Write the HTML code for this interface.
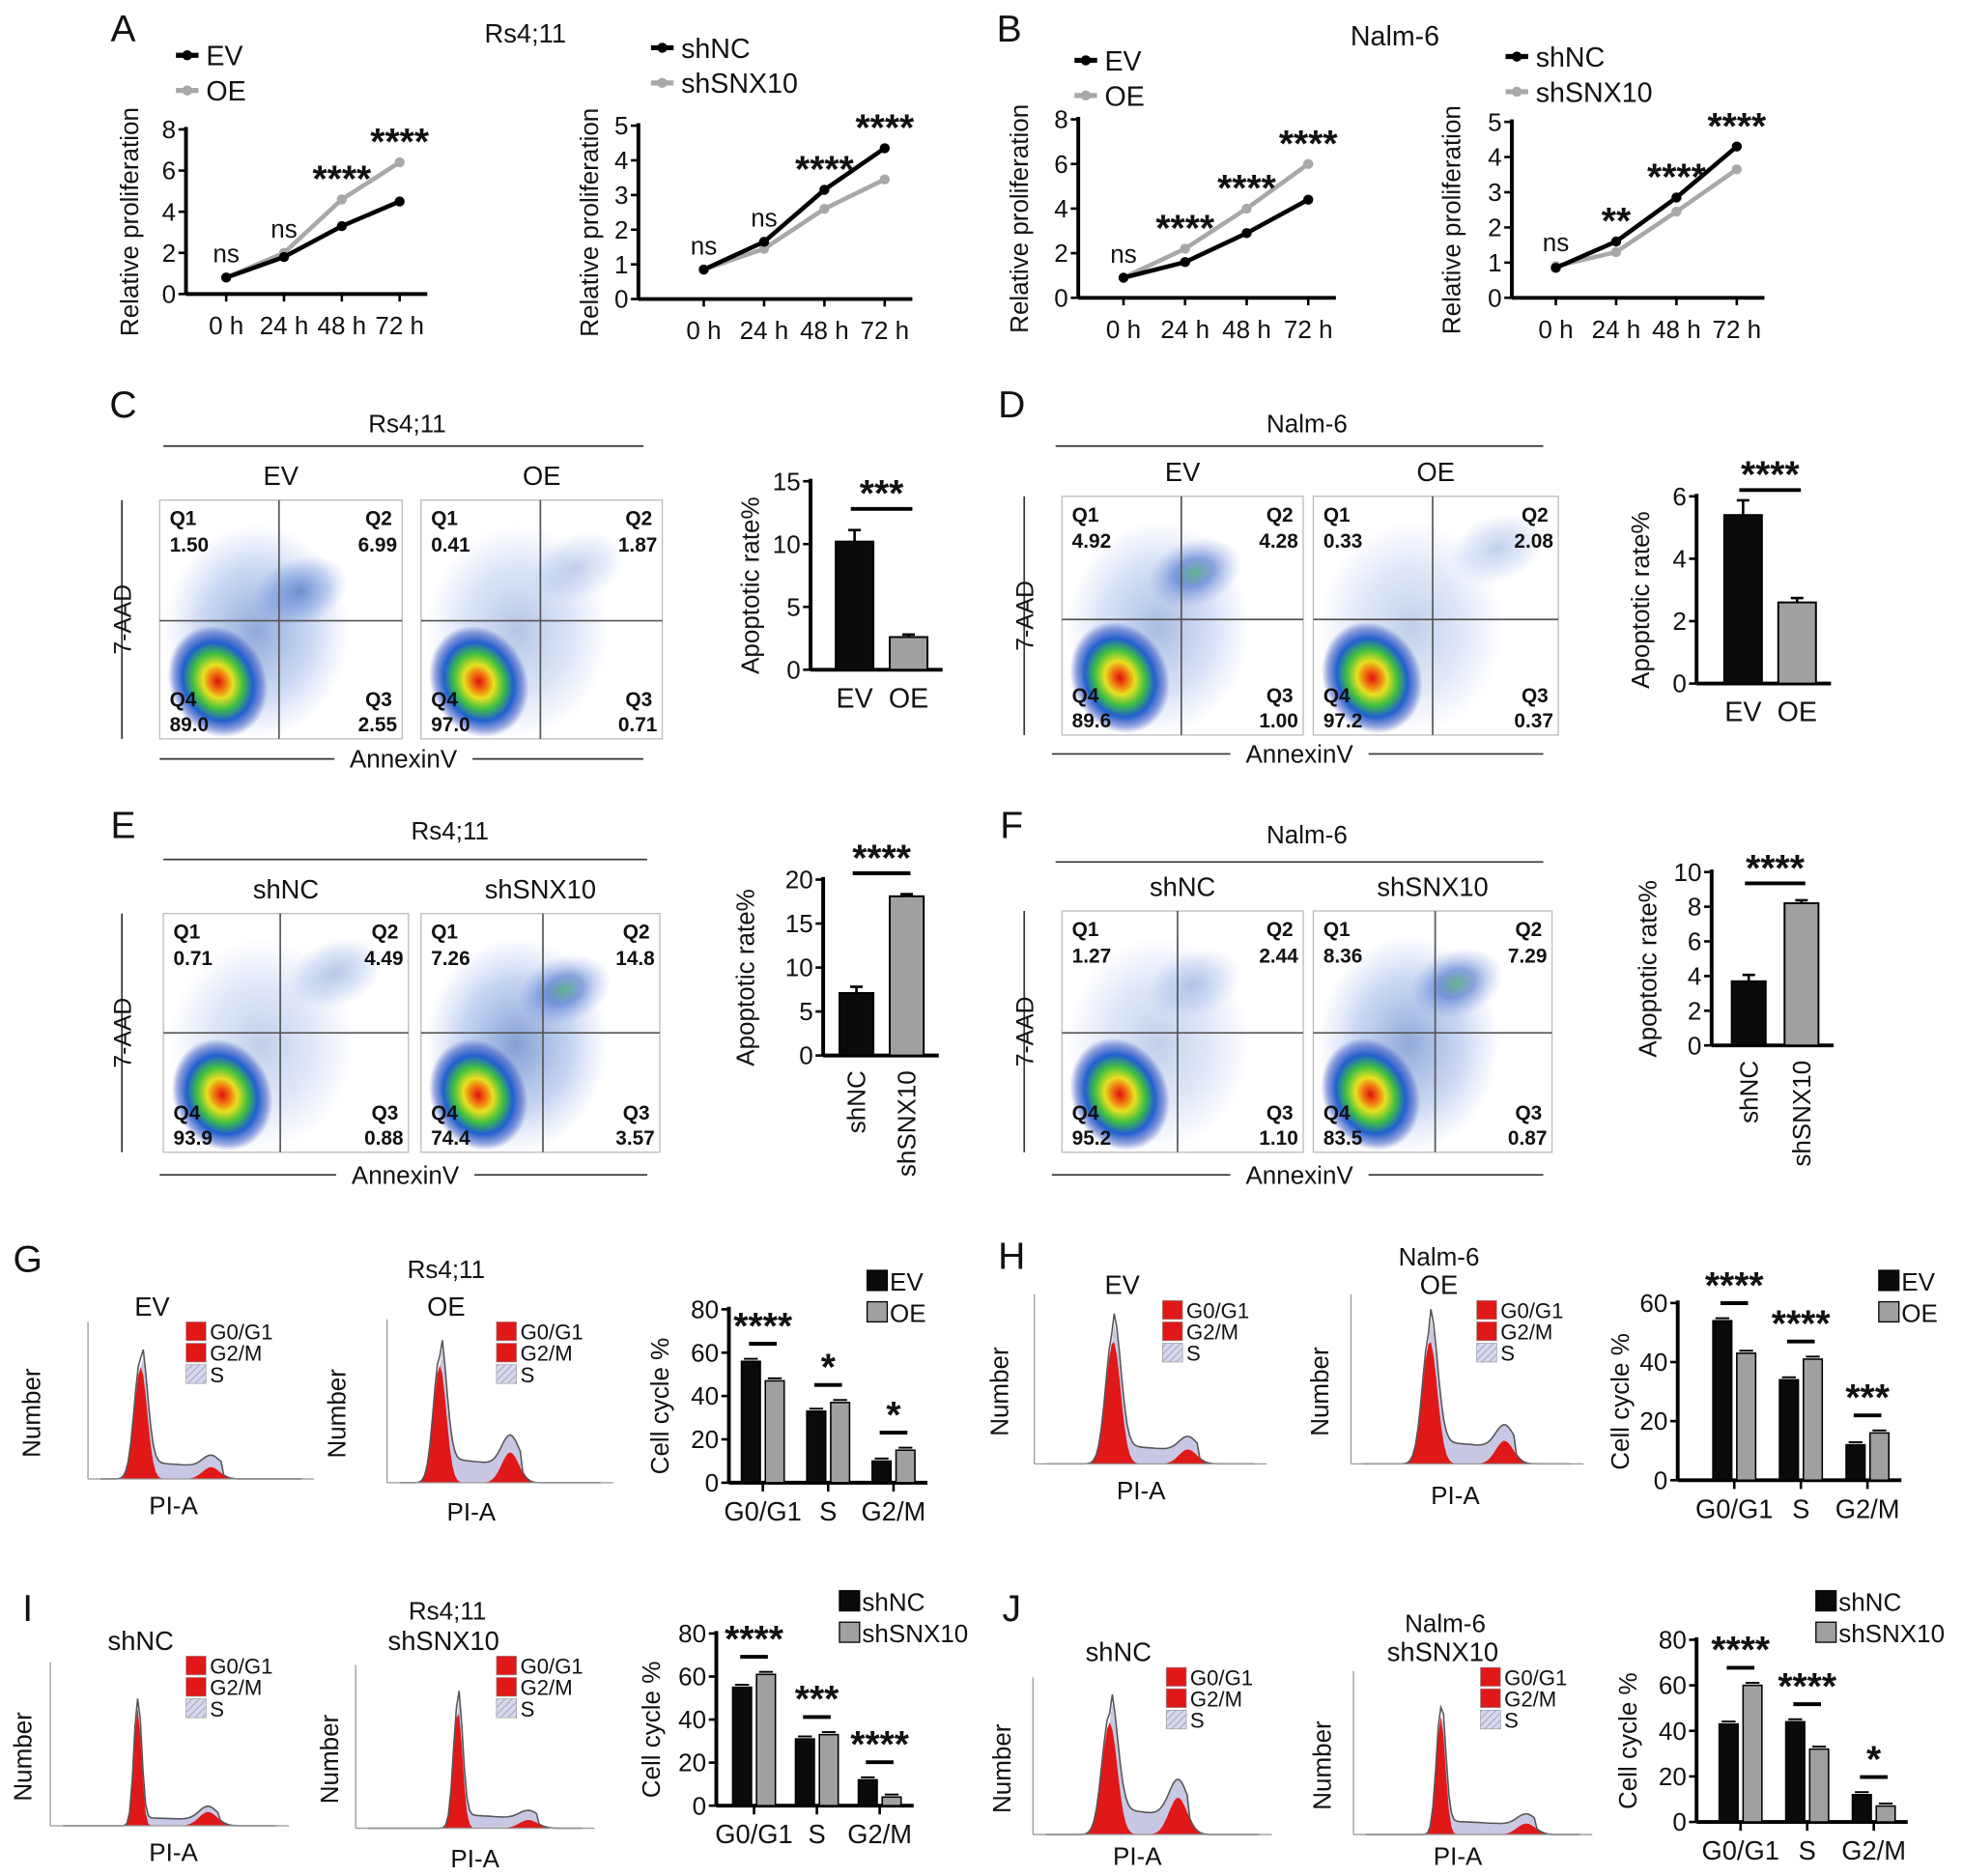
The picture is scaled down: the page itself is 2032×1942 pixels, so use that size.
<!DOCTYPE html>
<html><head><meta charset="utf-8"><style>
html,body{margin:0;padding:0;background:#fff}
svg{display:block}
text{font-family:"Liberation Sans",sans-serif;fill:#111}
.st{font-weight:bold;font-size:30px}
</style></head><body>
<svg id="fig" xmlns="http://www.w3.org/2000/svg" width="2032" height="1942" viewBox="0 0 1562 1493" preserveAspectRatio="none">
<defs>
<radialGradient id="dens" cx="0.5" cy="0.5" r="0.5">
<stop offset="0" stop-color="#e01010"/><stop offset="0.15" stop-color="#f07010"/><stop offset="0.3" stop-color="#e8e020"/><stop offset="0.5" stop-color="#40c040"/><stop offset="0.7" stop-color="#2060d0"/><stop offset="0.88" stop-color="#3050c0" stop-opacity="0.5"/><stop offset="1" stop-color="#3050c0" stop-opacity="0"/>
</radialGradient>
<radialGradient id="haze" cx="0.5" cy="0.5" r="0.5">
<stop offset="0" stop-color="#2050b0" stop-opacity="0.55"/><stop offset="0.6" stop-color="#4070d0" stop-opacity="0.3"/><stop offset="1" stop-color="#6080e0" stop-opacity="0"/>
</radialGradient>
<radialGradient id="hazeg" cx="0.5" cy="0.5" r="0.5">
<stop offset="0" stop-color="#30a060" stop-opacity="0.7"/><stop offset="0.4" stop-color="#2050c0" stop-opacity="0.5"/><stop offset="1" stop-color="#6080e0" stop-opacity="0"/>
</radialGradient>
<pattern id="hatch" width="4" height="4" patternUnits="userSpaceOnUse" patternTransform="rotate(45)"><rect width="4" height="4" fill="#d8d8ec"/><line x1="0" y1="0" x2="0" y2="4" stroke="#8888aa" stroke-width="1"/></pattern>
</defs>
</svg>
<script>
// ---------- data ----------
const timeLabels=["0 h","24 h","48 h","72 h"];
const A1_EV=[0.8,1.8,3.3,4.5], A1_OE=[0.8,2.0,4.6,6.4];
const A2_shNC=[0.85,1.65,3.15,4.35], A2_shSNX10=[0.85,1.45,2.6,3.45];
const B1_EV=[0.9,1.6,2.9,4.4], B1_OE=[0.9,2.2,4.0,6.0];
const B2_shNC=[0.85,1.6,2.85,4.3], B2_shSNX10=[0.9,1.3,2.45,3.65];
const A1_sig=["ns","ns","****","****"], A2_sig=["ns","ns","****","****"], B1_sig=["ns","****","****","****"], B2_sig=["ns","**","****","****"];
const ticks8=[0,2,4,6,8], ticks5=[0,1,2,3,4,5];
const apopC=[10.2,2.6], apopD=[5.4,2.6], apopE=[7.1,18.1], apopF=[3.7,8.2];
const phases=["G0/G1","S","G2/M"];
const G_EV=[56,33,10], G_OE=[47,37,15];
const H_EV=[54,34,12], H_OE=[43,41,16];
const I_shNC=[55,31,12], I_shSNX10=[61,33,4];
const J_shNC=[43,44,12], J_shSNX10=[60,32,7];
const G_sig=["****","*","*"], H_sig=["****","****","***"], I_sig=["****","***","****"], J_sig=["****","****","*"];

const NS="http://www.w3.org/2000/svg";
const svg=document.getElementById('fig');
function mk(tag,a,p){const e=document.createElementNS(NS,tag);for(const k in a)e.setAttribute(k,a[k]);(p||svg).appendChild(e);return e;}
function tx(s,x,y,sz,anchor,p,extra){const e=mk('text',Object.assign({x:x,y:y,'font-size':sz,'text-anchor':anchor||'middle'},extra||{}),p);e.textContent=s;return e;}
function grp(name){const g=mk('g',{});return g;}

[["A",98,33],["B",803,33],["C",98,332],["D",805,332],["E",98,667],["F",805,667],["G",22,1012],["H",805,1010],["I",22,1290],["J",805,1290]].forEach(l=>{
 const t=tx(l[0],l[1],l[2],30,'middle');
 
 
});

// ---------- line charts ----------
function lineChart(name,ax,yTop,yBot,ymax,ticks,x0,step,s1,s2,n1,n2,sig,legX,legY,ytx){
 const g=grp(name);
 const Y=v=>yBot-(v/ymax)*(yBot-yTop);
 const X=i=>x0+i*step;
 mk('line',{x1:ax,y1:yTop-2,x2:ax,y2:yBot,stroke:'#000','stroke-width':3},g);
 mk('line',{x1:ax,y1:yBot,x2:X(3)+22,y2:yBot,stroke:'#000','stroke-width':3},g);
 ticks.forEach(v=>{mk('line',{x1:ax-6,y1:Y(v),x2:ax,y2:Y(v),stroke:'#000','stroke-width':2},g);tx(String(v),ax-8,Y(v)+7,20,'end',g);});
 timeLabels.forEach((l,i)=>{mk('line',{x1:X(i),y1:yBot,x2:X(i),y2:yBot+6,stroke:'#000','stroke-width':2},g);tx(l,X(i),yBot+32,20,'middle',g);});
 const t=tx('Relative proliferation',0,0,20,'middle',g,{transform:`translate(${ytx},${(yTop+yBot)/2+8}) rotate(-90)`});
 
 [[s2,'#a8a8a8',n2],[s1,'#000',n1]].forEach(([s,c,n])=>{
  const pl=mk('polyline',{points:s.map((v,i)=>X(i)+','+Y(v)).join(' '),fill:'none',stroke:c,'stroke-width':3.5},g);
  
  s.forEach((v,i)=>{const m=mk('circle',{cx:X(i),cy:Y(v),r:4,fill:c},g);});
 });
 sig.forEach((s,i)=>{const top=Math.max(s1[i],s2[i]);const yy=Y(top)-(s==='ns'?12:18);tx(s,X(i),yy+(s==='ns'?0:12),s==='ns'?20:30,'middle',g,s==='ns'?{}:{class:'st'});});
 [[n1,'#000',legY],[n2,'#a8a8a8',legY+28]].forEach(([n,c,yy])=>{
  const lg=mk('g',{},g);
  mk('line',{x1:legX,y1:yy,x2:legX+18,y2:yy,stroke:c,'stroke-width':4},lg);mk('circle',{cx:legX+9,cy:yy,r:4,fill:c},lg);
  tx(n,legX+24,yy+8,22,'start',lg);
 });
}
lineChart('chart-a-overexpression',148,103,234,8,ticks8,180,46,A1_EV,A1_OE,'EV','OE',A1_sig,140,44,110);
lineChart('chart-a-knockdown',508,100,238,5,ticks5,560,48,A2_shNC,A2_shSNX10,'shNC','shSNX10',A2_sig,518,38,476);
lineChart('chart-b-overexpression',858,95,237,8,ticks8,894,49,B1_EV,B1_OE,'EV','OE',B1_sig,855,48,818);
lineChart('chart-b-knockdown',1203,97,237,5,ticks5,1238,48,B2_shNC,B2_shSNX10,'shNC','shSNX10',B2_sig,1198,45,1162);
tx('Rs4;11',418,34,21,'middle');tx('Nalm-6',1110,36,22,'middle');

// ---------- flow scatter ----------
function flowPanel(name,title,tX,tY,lx1,lx2,lineY,boxes,yAxX,annY){
 const g=grp(name);
 tx(title,tX,tY,20,'middle',g);
 mk('line',{x1:lx1,y1:lineY,x2:lx2,y2:lineY,stroke:'#333','stroke-width':1.3},g);
 boxes.forEach(b=>{
  const bg=mk('g',{},g);
  tx(b.name,(b.x1+b.x2)/2,b.y1-12,21,'middle',bg);
  mk('rect',{x:b.x1,y:b.y1,width:b.x2-b.x1,height:b.y2-b.y1,fill:'#fff',stroke:'#bbb','stroke-width':1},bg);
  const w=b.x2-b.x1,h=b.y2-b.y1;
  mk('ellipse',{cx:b.x1+w*0.4,cy:b.y1+h*0.55,rx:w*0.38,ry:h*0.45,fill:'url(#haze)',opacity:b.spread},bg);
  mk('ellipse',{cx:b.x1+w*b.q2x,cy:b.y1+h*b.q2y,rx:w*0.2,ry:h*0.14,fill:b.green?'url(#hazeg)':'url(#haze)',opacity:b.q2o,transform:`rotate(-20 ${b.x1+w*b.q2x} ${b.y1+h*b.q2y})`},bg);
  mk('ellipse',{cx:b.x1+w*0.24,cy:b.y1+h*0.76,rx:w*0.2,ry:h*0.24,fill:'url(#dens)',transform:`rotate(-25 ${b.x1+w*0.24} ${b.y1+h*0.76})`},bg);
  mk('line',{x1:b.cx,y1:b.y1,x2:b.cx,y2:b.y2,stroke:'#555','stroke-width':1.3},bg);
  mk('line',{x1:b.x1,y1:b.cy,x2:b.x2,y2:b.cy,stroke:'#555','stroke-width':1.3},bg);
  const f={'font-weight':'bold'};
  tx('Q1',b.x1+8,b.y1+20,16,'start',bg,f);tx(b.q[0],b.x1+8,b.y1+41,16,'start',bg,f);
  tx('Q2',b.x2-8,b.y1+20,16,'end',bg,f);tx(b.q[1],b.x2-4,b.y1+41,16,'end',bg,f);
  tx('Q4',b.x1+8,b.y2-26,16,'start',bg,f);tx(b.q[3],b.x1+8,b.y2-6,16,'start',bg,f);
  tx('Q3',b.x2-8,b.y2-26,16,'end',bg,f);tx(b.q[2],b.x2-4,b.y2-6,16,'end',bg,f);
 });
 const by1=boxes[0].y1,by2=boxes[0].y2;
 mk('line',{x1:yAxX-3,y1:by1,x2:yAxX-3,y2:by2,stroke:'#333','stroke-width':1.3},g);
 const ya=tx('7-AAD',0,0,19,'middle',g,{transform:`translate(${yAxX+4},${(by1+by2)/2}) rotate(-90)`});
 
 const mid=(lx1+lx2)/2;
 mk('line',{x1:lx1-3,y1:annY,x2:lx2,y2:annY,stroke:'#333','stroke-width':1.3},g);
 mk('rect',{x:mid-55,y:annY-14,width:110,height:24,fill:'#fff'},g);
 const xa=tx('AnnexinV',mid,annY+7,20,'middle',g);
 
}
flowPanel('flow-c','Rs4;11',324,344,130,512,355,[
 {name:'EV',x1:127,x2:320,y1:398,y2:588,cx:222,cy:494,q:['1.50','6.99','2.55','89.0'],q2x:0.58,q2y:0.38,q2o:1,spread:0.9},
 {name:'OE',x1:335,x2:527,y1:398,y2:588,cx:430,cy:494,q:['0.41','1.87','0.71','97.0'],q2x:0.65,q2y:0.28,q2o:0.45,spread:0.6}],100,604);
flowPanel('flow-d','Nalm-6',1040,344,840,1228,355,[
 {name:'EV',x1:845,x2:1037,y1:395,y2:585,cx:940,cy:493,q:['4.92','4.28','1.00','89.6'],q2x:0.55,q2y:0.32,q2o:1,green:true,spread:0.7},
 {name:'OE',x1:1045,x2:1240,y1:395,y2:585,cx:1140,cy:493,q:['0.33','2.08','0.37','97.2'],q2x:0.75,q2y:0.22,q2o:0.5,spread:0.5}],818,600);
flowPanel('flow-e','Rs4;11',358,668,130,515,684,[
 {name:'shNC',x1:130,x2:325,y1:727,y2:917,cx:223,cy:822,q:['0.71','4.49','0.88','93.9'],q2x:0.7,q2y:0.25,q2o:0.6,spread:0.5},
 {name:'shSNX10',x1:335,x2:525,y1:727,y2:917,cx:432,cy:822,q:['7.26','14.8','3.57','74.4'],q2x:0.6,q2y:0.32,q2o:1.2,green:true,spread:1}],100,935);
flowPanel('flow-f','Nalm-6',1040,671,840,1228,686,[
 {name:'shNC',x1:845,x2:1037,y1:725,y2:917,cx:937,cy:822,q:['1.27','2.44','1.10','95.2'],q2x:0.55,q2y:0.3,q2o:0.5,spread:0.5},
 {name:'shSNX10',x1:1045,x2:1235,y1:725,y2:917,cx:1142,cy:822,q:['8.36','7.29','0.87','83.5'],q2x:0.6,q2y:0.3,q2o:1.1,green:true,spread:0.9}],818,935);

// ---------- apoptosis bars ----------
function apopBar(name,ax,yTop,yBot,ymax,ticks,vals,labels,bx,bw,gap,sig,sigY,rot,ytx){
 const g=grp(name);
 const Y=v=>yBot-(v/ymax)*(yBot-yTop);
 mk('line',{x1:ax,y1:yTop-2,x2:ax,y2:yBot,stroke:'#000','stroke-width':3},g);
 mk('line',{x1:ax,y1:yBot,x2:bx+2*bw+gap+12,y2:yBot,stroke:'#000','stroke-width':3},g);
 ticks.forEach(v=>{mk('line',{x1:ax-6,y1:Y(v),x2:ax,y2:Y(v),stroke:'#000','stroke-width':2},g);tx(String(v),ax-8,Y(v)+7,20,'end',g);});
 vals.forEach((v,i)=>{
  const x=bx+i*(bw+gap);
  const r=mk('rect',{x:x,y:Y(v),width:bw,height:yBot-Y(v),fill:i?'#a0a0a0':'#0a0a0a',stroke:'#000','stroke-width':1.5},g);
  
  const e=i?0.1:v*0.08;mk('line',{x1:x+bw/2,y1:Y(v)-e*(yBot-yTop)/ymax-1,x2:x+bw/2,y2:Y(v),stroke:'#000','stroke-width':2},g);
  mk('line',{x1:x+bw/2-5,y1:Y(v)-e*(yBot-yTop)/ymax-1,x2:x+bw/2+5,y2:Y(v)-e*(yBot-yTop)/ymax-1,stroke:'#000','stroke-width':2},g);
  if(rot) tx(labels[i],0,0,20,'end',g,{transform:`translate(${x+bw/2+7},${yBot+12}) rotate(-90)`});
  else tx(labels[i],x+bw/2,yBot+30,22,'middle',g);
 });
 const c1=bx+bw/2,c2=bx+bw*1.5+gap;
 mk('line',{x1:c1-3,y1:sigY,x2:c2+3,y2:sigY,stroke:'#000','stroke-width':3},g);
 tx(sig,(c1+c2)/2,sigY-2,30,'middle',g,{class:'st'});
 const t=tx('Apoptotic rate%',0,0,20,'middle',g,{transform:`translate(${ytx},${(yTop+yBot)/2+8}) rotate(-90)`});
 
}
apopBar('bar-chart-c',645,383,533,15,[0,5,10,15],apopC,['EV','OE'],665,30,13,'***',405,false,604);
apopBar('bar-chart-d',1350,395,544,6,[0,2,4,6],apopD,['EV','OE'],1372,30,13,'****',390,false,1312);
apopBar('bar-chart-e',655,700,840,20,[0,5,10,15,20],apopE,['shNC','shSNX10'],668,27,13,'****',695,true,600);
apopBar('bar-chart-f',1362,694,832,10,[0,2,4,6,8,10],apopF,['shNC','shSNX10'],1378,27,15,'****',703,true,1318);

// ---------- histograms ----------
const histParams=[
 ['hist-g-ev','EV',70,1177,160,105,0.2,0.045,0.13,0.55,0.09,121,1047,148,25,138,1205],
 ['hist-g-oe','OE',308,1180,160,110,0.2,0.045,0.18,0.55,0.22,355,1047,395,268,375,1210],
 ['hist-h-ev','EV',823,1165,165,115,0.32,0.05,0.13,0.68,0.1,893,1030,925,795,908,1193],
 ['hist-h-oe','OE',1075,1165,165,115,0.32,0.05,0.16,0.68,0.16,1145,1030,1175,1050,1158,1197],
 ['hist-i-shnc','shNC',40,1453,170,110,0.35,0.025,0.06,0.68,0.1,112,1313,148,18,138,1481],
 ['hist-i-shsnx10','shSNX10',283,1455,170,110,0.42,0.03,0.1,0.75,0.06,353,1313,395,262,378,1486],
 ['hist-j-shnc','shNC',822,1460,170,105,0.3,0.05,0.2,0.62,0.28,890,1322,928,797,905,1484],
 ['hist-j-shsnx10','shSNX10',1077,1460,170,110,0.35,0.03,0.1,0.75,0.08,1148,1322,1178,1052,1160,1484]
];
histParams.forEach(p=>{
 const [name,lab,ax,by,w,h,g1,s1w,sl,g2,g2h,lx,ly,legx,numx,pix,piy]=p;
 const g=grp(name);
 const N=80,pts=[],red1=[],red2=[],sFill=[];
 for(let i=0;i<=N;i++){
  const f=i/N;
  const a=Math.exp(-Math.pow((f-g1)/s1w,2));
  const b=g2h*Math.exp(-Math.pow((f-g2)/0.06,2));
  const s=(f>g1&&f<g2+0.05)?sl*(1-0.3*((f-g1)/(g2-g1))):0;
  const x=ax+10+f*w;
  pts.push([x,by-(a*0.92+s+b)*h]);red1.push([x,by-a*0.85*h]);red2.push([x,by-b*h]);sFill.push([x,by-(a*0.85+s+b)*h]);
 }
 const P=a=>a.map(q=>q[0].toFixed(1)+','+q[1].toFixed(1)).join(' ');
 mk('polygon',{points:`${ax+10},${by} `+P(sFill)+` ${ax+10+w},${by}`,fill:'#c8c8e4'},g);
 mk('polygon',{points:`${ax+10},${by} `+P(red1)+` ${ax+10+w},${by}`,fill:'#e01818'},g);
 mk('polygon',{points:`${ax+10},${by} `+P(red2)+` ${ax+10+w},${by}`,fill:'#e01818'},g);
 mk('polyline',{points:P(pts),fill:'none',stroke:'#555','stroke-width':1.2},g);
 mk('line',{x1:ax,y1:by-h-20,x2:ax,y2:by,stroke:'#999','stroke-width':1},g);
 mk('line',{x1:ax,y1:by,x2:ax+w+20,y2:by,stroke:'#999','stroke-width':1},g);
 tx(lab,lx,ly,21,'middle',g);
 [['G0/G1','#e01818'],['G2/M','#e01818'],['S','url(#hatch)']].forEach((l,i)=>{
  mk('rect',{x:legx,y:ly+5+i*17,width:16,height:15,fill:l[1],stroke:'#999','stroke-width':0.5},g);
  tx(l[0],legx+19,ly+19+i*17,17,'start',g);
 });
 const nt=tx('Number',0,0,20,'middle',g,{transform:`translate(${numx+7},${by-h/2}) rotate(-90)`});
 
 tx('PI-A',pix,piy,20,'middle',g);
});
tx('Rs4;11',355,1017,20,'middle');tx('Nalm-6',1145,1007,20,'middle');
tx('Rs4;11',356,1289,20,'middle');tx('Nalm-6',1150,1299,20,'middle');

// ---------- cell cycle bars ----------
function ccBar(name,ax,yTop,yBot,ymax,ticks,s1,s2,n1,n2,gx,gstep,bw,sig,legX,legY,ytx){
 const g=grp(name);
 const Y=v=>yBot-(v/ymax)*(yBot-yTop);
 mk('line',{x1:ax,y1:yTop-2,x2:ax,y2:yBot,stroke:'#000','stroke-width':3},g);
 mk('line',{x1:ax,y1:yBot,x2:gx+2*gstep+bw+12,y2:yBot,stroke:'#000','stroke-width':3},g);
 ticks.forEach(v=>{mk('line',{x1:ax-6,y1:Y(v),x2:ax,y2:Y(v),stroke:'#000','stroke-width':2},g);tx(String(v),ax-8,Y(v)+7,20,'end',g);});
 phases.forEach((ph,i)=>{
  const cx=gx+i*gstep;
  [[s1[i],'#0a0a0a',n1,-1],[s2[i],'#a0a0a0',n2,1]].forEach(([v,c,n,d])=>{
   const x=d<0?cx-bw-2:cx+2;
   const r=mk('rect',{x:x,y:Y(v),width:bw,height:yBot-Y(v),fill:c,stroke:'#000','stroke-width':1.2},g);
   
   mk('line',{x1:x+2,y1:Y(v)-2,x2:x+bw-2,y2:Y(v)-2,stroke:'#000','stroke-width':1.5},g);
  });
  mk('line',{x1:cx,y1:yBot,x2:cx,y2:yBot+7,stroke:'#000','stroke-width':2},g);
  tx(ph,cx,yBot+30,21,'middle',g);
  const top=Y(Math.max(s1[i],s2[i]));
  const ly=top-14;
  mk('line',{x1:cx-11,y1:ly,x2:cx+11,y2:ly,stroke:'#000','stroke-width':3},g);
  tx(sig[i],cx,ly-4,30,'middle',g,{class:'st'});
 });
 [[n1,'#0a0a0a',legY],[n2,'#a0a0a0',legY+25]].forEach(([n,c,yy])=>{
  const lg=mk('g',{},g);
  mk('rect',{x:legX,y:yy-9,width:16,height:16,fill:c,stroke:'#000','stroke-width':1},lg);
  tx(n,legX+18,yy+7,20,'start',lg);
 });
 const t=tx('Cell cycle %',0,0,20,'middle',g,{transform:`translate(${ytx},${(yTop+yBot)/2+8}) rotate(-90)`});
 
}
ccBar('bar-chart-g',580,1042,1180,80,[0,20,40,60,80],G_EV,G_OE,'EV','OE',607,52,15,G_sig,690,1020,532);
ccBar('bar-chart-h',1335,1037,1178,60,[0,20,40,60],H_EV,H_OE,'EV','OE',1380,53,15,H_sig,1495,1020,1296);
ccBar('bar-chart-i',570,1300,1437,80,[0,20,40,60,80],I_shNC,I_shSNX10,'shNC','shSNX10',600,50,15,I_sig,668,1275,525);
ccBar('bar-chart-j',1350,1305,1450,80,[0,20,40,60,80],J_shNC,J_shSNX10,'shNC','shSNX10',1385,53,15,J_sig,1445,1275,1302);
</script>
</body></html>
